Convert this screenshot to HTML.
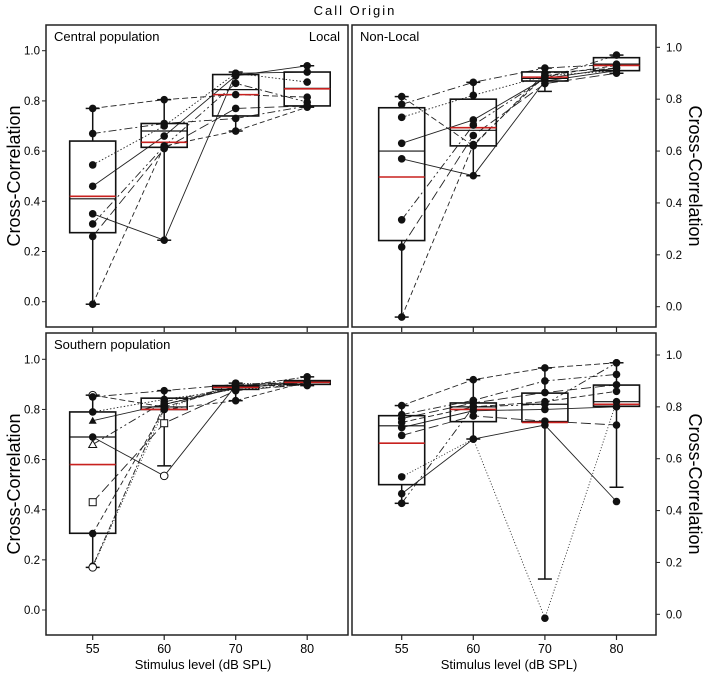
<!DOCTYPE html>
<html><head><meta charset="utf-8"><style>
html,body{margin:0;padding:0;background:#fff;}
svg{display:block;font-family:"Liberation Sans",Arial,sans-serif;}
</style></head><body>
<svg id="chart" width="709" height="673" viewBox="0 0 709 673" xmlns="http://www.w3.org/2000/svg">
<text x="355" y="15" text-anchor="middle" font-size="13" letter-spacing="2">Call Origin</text>
<text transform="translate(20,176) rotate(-90)" text-anchor="middle" font-size="18">Cross-Correlation</text>
<text transform="translate(20,484) rotate(-90)" text-anchor="middle" font-size="18">Cross-Correlation</text>
<text transform="translate(689,176) rotate(90)" text-anchor="middle" font-size="18">Cross-Correlation</text>
<text transform="translate(689,484) rotate(90)" text-anchor="middle" font-size="18">Cross-Correlation</text>
<text x="203" y="669" text-anchor="middle" font-size="13">Stimulus level (dB SPL)</text>
<text x="509" y="669" text-anchor="middle" font-size="13">Stimulus level (dB SPL)</text>
</svg>
<script>
const categories = ["55","60","70","80"];
const yTicks = [0.0,0.2,0.4,0.6,0.8,1.0];
// box stats per panel: [q1, median, q3, mean, whiskerLow, whiskerHigh]
const boxesTL = [[0.275,0.41,0.64,0.42,-0.01,0.77],[0.615,0.68,0.71,0.635,0.245,0.805],[0.74,0.845,0.905,0.825,0.68,0.915],[0.78,0.85,0.915,0.848,0.775,0.94]];
const boxesTR = [[0.255,0.60,0.767,0.50,-0.04,0.81],[0.62,0.68,0.80,0.69,0.505,0.865],[0.87,0.88,0.905,0.885,0.83,0.92],[0.91,0.935,0.96,0.93,0.90,0.97]];
const boxesBL = [[0.306,0.69,0.79,0.58,0.17,0.857],[0.80,0.81,0.845,0.80,0.575,0.875],[0.88,0.89,0.895,0.888,0.835,0.905],[0.90,0.91,0.915,0.908,0.895,0.93]];
const boxesBR = [[0.50,0.727,0.766,0.66,0.428,0.805],[0.743,0.80,0.815,0.79,0.676,0.905],[0.743,0.81,0.853,0.74,0.136,0.95],[0.802,0.82,0.884,0.81,0.49,0.97]];
// subject series: values at 55,60,70,80
const subjectsTL = [[0.77,0.805,0.825,0.815],[0.67,0.71,0.73,0.78],[0.545,0.70,0.91,0.875],[0.46,0.66,0.90,0.94],[0.35,0.245,0.91,0.915],[0.31,0.62,0.87,0.795],[0.26,0.61,0.77,0.78],[-0.01,0.62,0.68,0.775]];
const subjectsTR = [[0.81,0.62,0.90,0.92],[0.78,0.865,0.92,0.935],[0.73,0.815,0.89,0.91],[0.63,0.72,0.88,0.92],[0.57,0.505,0.87,0.91],[0.335,0.70,0.88,0.97],[0.23,0.66,0.86,0.90],[-0.04,0.625,0.89,0.93]];
const subjectsBL = [[0.857,0.81,0.89,0.90],[0.85,0.875,0.90,0.91],[0.79,0.84,0.88,0.90],[0.755,0.82,0.885,0.91],[0.69,0.535,0.895,0.91],[0.66,0.83,0.89,0.905],[0.43,0.745,0.875,0.90],[0.305,0.80,0.835,0.91],[0.175,0.82,0.89,0.93],[0.17,0.80,0.905,0.895]];
const subjectsBR = [[0.805,0.905,0.95,0.97],[0.77,0.825,0.90,0.925],[0.755,0.815,0.855,0.885],[0.74,0.80,0.82,0.86],[0.72,0.785,0.79,0.80],[0.69,0.765,0.745,0.73],[0.53,0.676,-0.015,0.82],[0.465,0.676,0.73,0.435],[0.428,0.80,0.81,0.97]];
const markersBL = ["oc","c","c","t","c","ot","os","c","c","oc"];
const dashes = ["6,3","8,3,2,3","1.5,2","","","8,3,2,3,2,3","10,4","5,3","2,2,6,2","1,2"];
const dashesBR = ["6,3","8,3,2,3","10,4","6,3","","10,4","1,2","","8,3,2,3,2,3"];

const svg = document.getElementById('chart');
const NS = "http://www.w3.org/2000/svg";
function mk(tag, attrs, parent){const e=document.createElementNS(NS,tag);for(const k in attrs)e.setAttribute(k,attrs[k]);(parent||svg).appendChild(e);return e;}

const panels = [
 {name:"central-local",left:46,top:25,w:302,h:302,x0:92.7,step:71.5,y1:50.7,y0:301.7,right:false,xlabels:false,boxes:boxesTL,subs:subjectsTL,label:"Central population",label2:"Local",dash:dashes},
 {name:"central-nonlocal",left:352,top:25,w:304,h:302,x0:401.7,step:71.6,y1:47.3,y0:306.7,right:true,xlabels:false,boxes:boxesTR,subs:subjectsTR,label:"Non-Local",dash:dashes},
 {name:"southern-local",left:46,top:333,w:302,h:302,x0:92.7,step:71.5,y1:359.3,y0:610,right:false,xlabels:true,boxes:boxesBL,subs:subjectsBL,label:"Southern population",markers:markersBL,dash:dashes},
 {name:"southern-nonlocal",left:352,top:333,w:304,h:302,x0:401.7,step:71.6,y1:355,y0:614.3,right:true,xlabels:true,boxes:boxesBR,subs:subjectsBR,dash:dashesBR}
];

panels.forEach(p=>{
  const g=mk('g',{});
  
  
  const xs=i=>p.x0+i*p.step;
  const ys=v=>p.y0-(p.y0-p.y1)*v;
  const fr=mk('rect',{x:p.left,y:p.top,width:p.w,height:p.h,fill:'none',stroke:'#222','stroke-width':1.5},g);
  
  
  const lb=mk('text',{x:p.left+8,y:p.top+16,'font-size':13},g);lb.textContent=p.label||'';
  
  
  if(p.label2){const l2=mk('text',{x:p.left+p.w-8,y:p.top+16,'font-size':13,'text-anchor':'end'},g);l2.textContent=p.label2;
    
    }
  yTicks.forEach(t=>{
    const tx=mk('text',{x:p.right?p.left+p.w+10:p.left-6,y:ys(t)+4,'font-size':11.5,'text-anchor':p.right?'start':'end'},g);
    tx.textContent=t.toFixed(1);
    
    
    mk('line',{x1:p.right?p.left+p.w:p.left-4,x2:p.right?p.left+p.w+4:p.left,y1:ys(t),y2:ys(t),stroke:'#222'},g);
  });
  categories.forEach((c,i)=>{
    mk('line',{x1:xs(i),x2:xs(i),y1:p.top+p.h,y2:p.top+p.h+5,stroke:'#222','stroke-width':1.2},g);
    if(p.xlabels){const t=mk('text',{x:xs(i),y:p.top+p.h+18,'font-size':12.5,'text-anchor':'middle'},g);t.textContent=c;
      
      }
  });
  p.subs.forEach((s,j)=>{
    const pts=s.map((v,i)=>xs(i)+','+ys(v)).join(' ');
    const pl=mk('polyline',{points:pts,fill:'none',stroke:'#222','stroke-width':0.9,'stroke-dasharray':p.dash[j%p.dash.length]||'none'},g);
    
    
  });
  p.boxes.forEach((b,i)=>{
    const x=xs(i),bw=46;
    const [q1,md,q3,mn,wl,wh]=b;
    mk('line',{x1:x,x2:x,y1:ys(wh),y2:ys(q3),stroke:'#111','stroke-width':1.5},g);
    mk('line',{x1:x,x2:x,y1:ys(q1),y2:ys(wl),stroke:'#111','stroke-width':1.5},g);
    mk('line',{x1:x-7,x2:x+7,y1:ys(wh),y2:ys(wh),stroke:'#111','stroke-width':1.5},g);
    mk('line',{x1:x-7,x2:x+7,y1:ys(wl),y2:ys(wl),stroke:'#111','stroke-width':1.5},g);
    const r=mk('rect',{x:x-bw/2,y:ys(q3),width:bw,height:ys(q1)-ys(q3),fill:'none',stroke:'#111','stroke-width':1.6},g);
    
    
    mk('line',{x1:x-bw/2,x2:x+bw/2,y1:ys(md),y2:ys(md),stroke:'#111','stroke-width':1.2},g);
    const m=mk('line',{x1:x-bw/2,x2:x+bw/2,y1:ys(mn),y2:ys(mn),stroke:'#c8211f','stroke-width':1.6},g);
    
    
  });
  p.subs.forEach((s,j)=>{
    s.forEach((v,i)=>{
      const x=xs(i),y=ys(v);
      let mtype=(p.markers&&i<2)?p.markers[j]:'c';
      if(p.markers&&i===1&&j===4)mtype='oc';
      if(p.markers&&i===1&&j!==4&&j!==6)mtype='c';
      let e;
      if(mtype==='c')e=mk('circle',{cx:x,cy:y,r:3.8,fill:'#111'},g);
      else if(mtype==='oc')e=mk('circle',{cx:x,cy:y,r:3.8,fill:'#fff',stroke:'#111','stroke-width':1},g);
      else if(mtype==='t')e=mk('polygon',{points:`${x},${y-4} ${x-4},${y+3} ${x+4},${y+3}`,fill:'#111'},g);
      else if(mtype==='ot')e=mk('polygon',{points:`${x},${y-4} ${x-4},${y+3} ${x+4},${y+3}`,fill:'#fff',stroke:'#111'},g);
      else e=mk('rect',{x:x-3.5,y:y-3.5,width:7,height:7,fill:'#fff',stroke:'#111'},g);
      
      
    });
  });
});
</script>
</body></html>
